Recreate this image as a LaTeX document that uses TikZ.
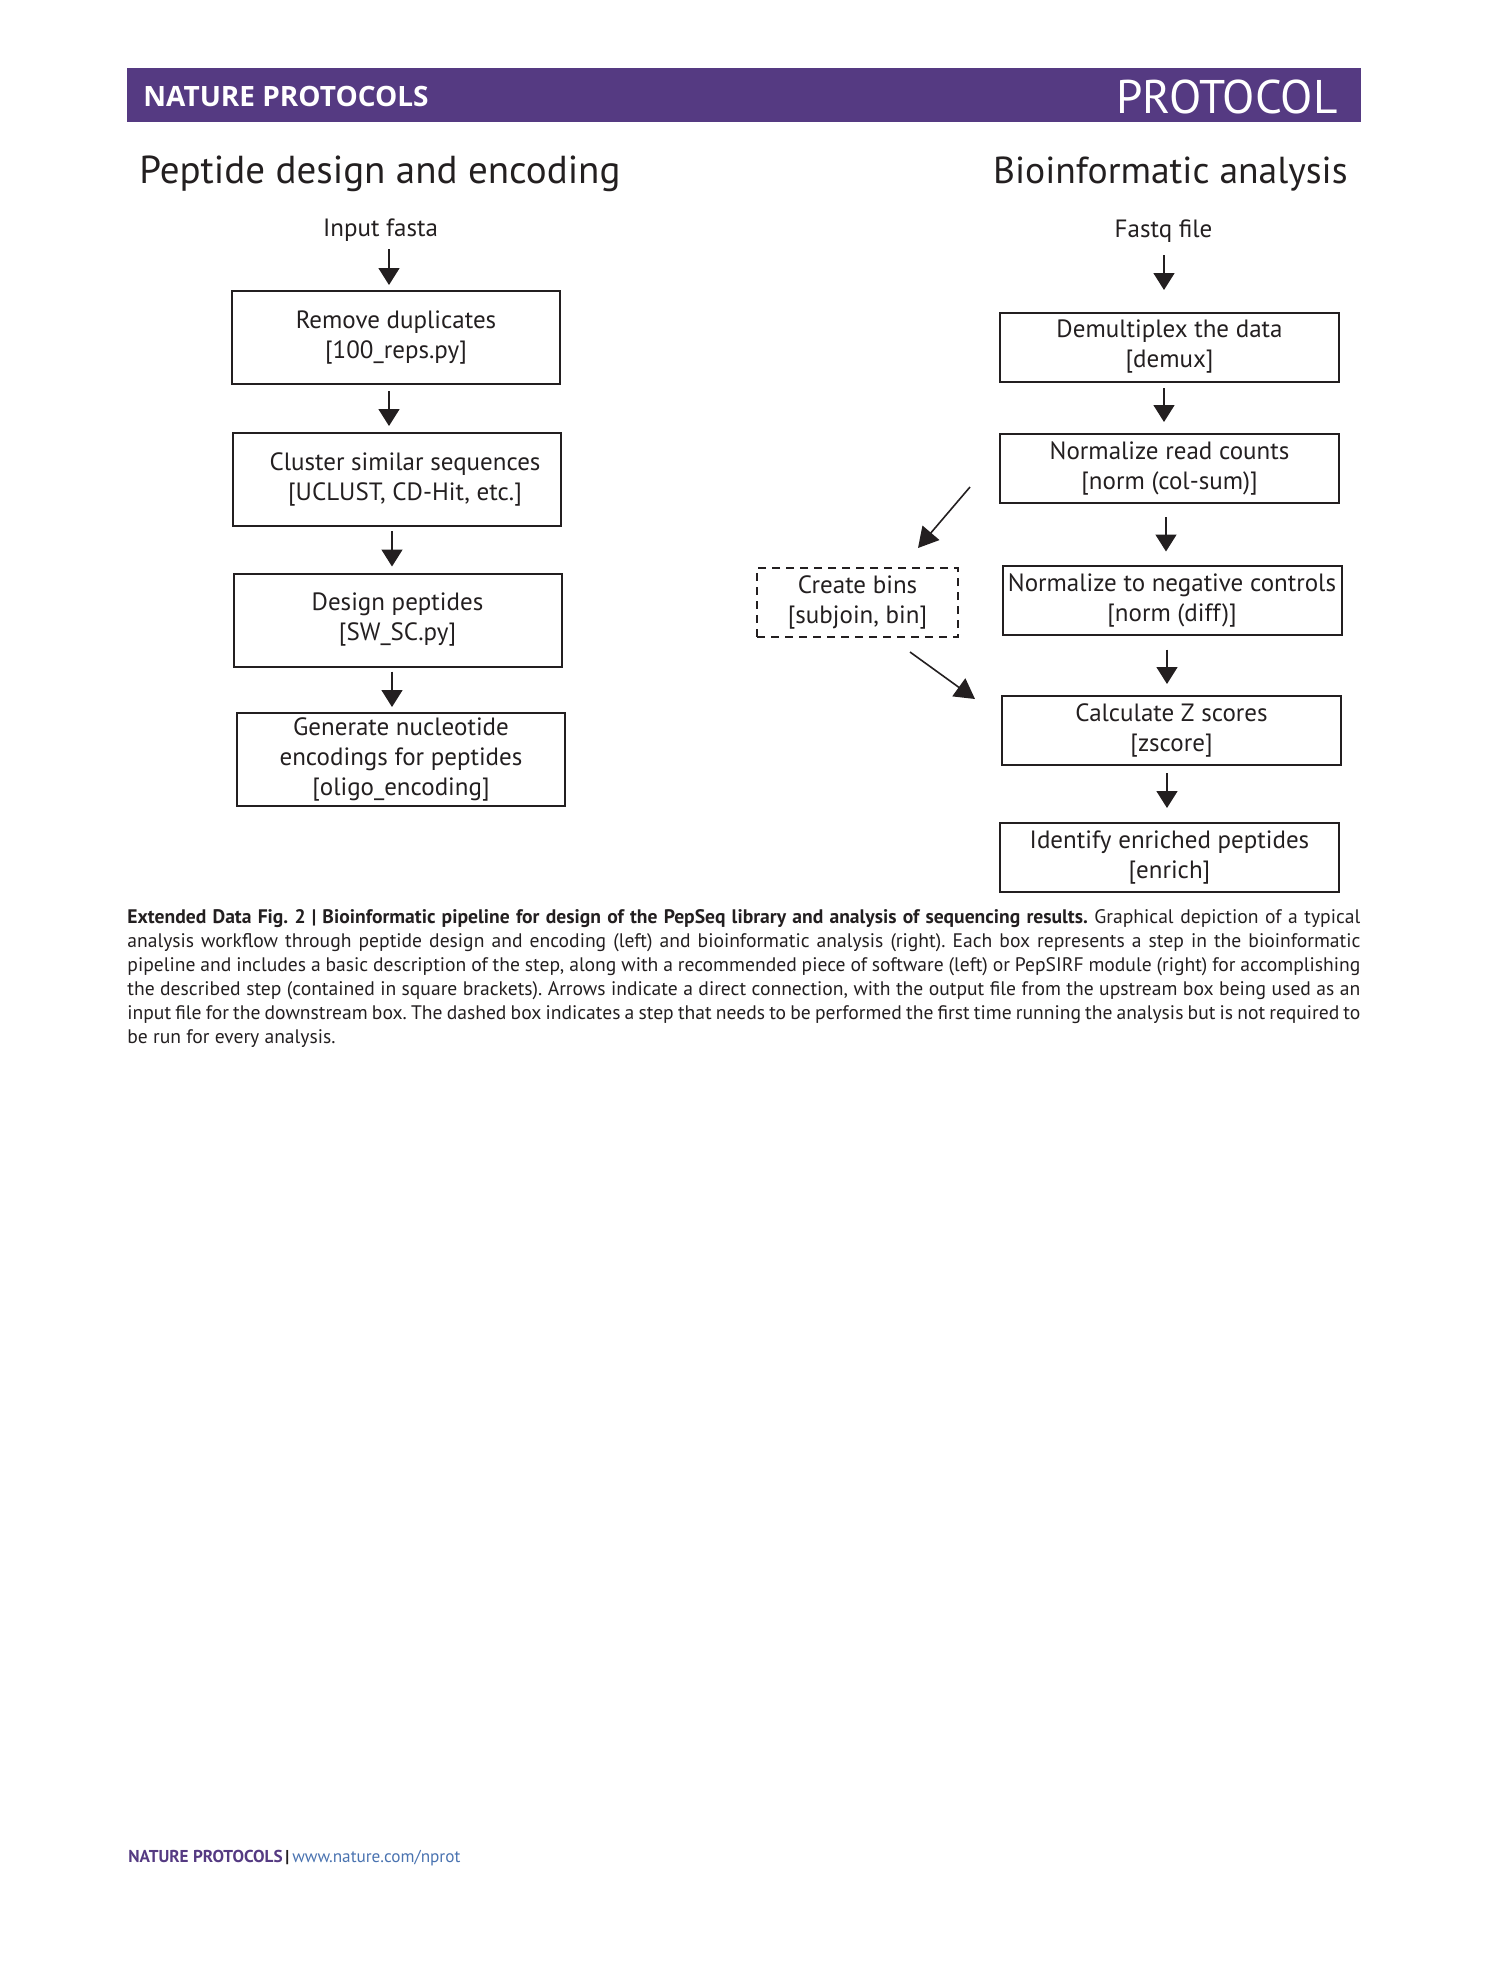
\documentclass[tikz,border=0pt]{standalone}
\usepackage{fontspec}
\setmainfont{PT Sans}
\newfontfamily\bannerfont{Open Sans}
\usetikzlibrary{arrows.meta}
\definecolor{natpurple}{HTML}{553A82}
\definecolor{natblue}{HTML}{4A73B0}
\definecolor{pdink}{HTML}{231F20}
\tikzset{
  pipebox/.style={draw=pdink, line width=1pt, align=center, inner sep=0pt,
                  minimum width=164pt, minimum height=46.5pt,
                  font=\fontsize{12.5}{15}\selectfont, text=pdink},
  pipewide/.style={pipebox, minimum width=169.5pt, minimum height=34.5pt},
  pipedash/.style={pipebox, dash pattern=on 4pt off 3pt,
                   minimum width=100.5pt, minimum height=34.5pt},
  pipear/.style={-{Triangle[length=8.5pt,width=10.5pt]}, line width=0.8pt, draw=pdink},
  pipebigar/.style={-{Triangle[length=10pt,width=11pt]}, line width=0.8pt, draw=pdink},
  pipelab/.style={font=\fontsize{12.5}{15}\selectfont, text=pdink, inner sep=0pt},
  pipehead/.style={text=pdink, inner sep=0pt},
}

\begin{document}
\begin{tikzpicture}[x=0.5pt,y=-0.5pt]
  \useasboundingbox (0,0) rectangle (1489,1978);

  % journal banner
  \fill[natpurple] (127,68) rectangle (1361,122);
  \node[anchor=base west, inner sep=0pt, text=white,
        font=\bannerfont\fontsize{14}{16}\selectfont\bfseries] (jname) at (143,106.5) {NATURE PROTOCOLS};
  \node[anchor=base east, inner sep=0pt, text=white,
        font=\fontsize{23.6}{26}\selectfont] (atype) at (1338,113) {PROTOCOL};

  \node[pipehead, anchor=base west, font=\fontsize{19.5}{23}\selectfont] (hleft) at (139,183) {Peptide design and encoding};
  \node[pipehead, anchor=base east, font=\fontsize{18.8}{23}\selectfont] (hright) at (1348,183) {Bioinformatic analysis};

  % peptide design (left)
  \node[pipelab, anchor=base] (fasta) at (380.5,236.7) {Input fasta};
  \node[pipebox] (dedup) at (396,337.5) {Remove duplicates\\{[100\_reps.py]}};
  \node[pipebox] (clust) at (397,479.5) {\hspace*{8pt}Cluster similar sequences\\\hspace*{8pt}{[UCLUST, CD-Hit, etc.]}};
  \node[pipebox] (design) at (397.5,620) {Design peptides\\{[SW\_SC.py]}};
  \node[pipebox] (encode) at (401,759.5) {Generate nucleotide\\encodings for peptides\\{[oligo\_encoding]}};

  \draw[pipear] ([xshift=4.25pt,yshift=-3.5pt]fasta.south) -- ([xshift=-3.5pt,yshift=2.5pt]dedup.north);
  \draw[pipear] ([xshift=-3.5pt,yshift=-3pt]dedup.south) -- ([xshift=-4pt,yshift=3pt]clust.north);
  \draw[pipear] ([xshift=-2.5pt,yshift=-2pt]clust.south) -- ([xshift=-2.75pt,yshift=3pt]design.north);
  \draw[pipear] ([xshift=-2.75pt,yshift=-2pt]design.south) -- ([xshift=-4.5pt,yshift=2.5pt]encode.north);

  % bioinformatic analysis (right)
  \node[pipelab, anchor=base] (fastq) at (1163.5,237) {Fastq file};
  \node[pipewide] (demux) at (1169.5,347) {Demultiplex the data\\{[demux]}};
  \node[pipewide] (colsum) at (1169.5,468.5) {Normalize read counts\\{[norm (col-sum)]}};
  \node[pipewide] (negnorm) at (1172,600) {Normalize to negative controls\\{[norm (diff)]}};
  \node[pipewide] (zscore) at (1171.5,730) {Calculate Z scores\\{[zscore]}};
  \node[pipewide] (enrich) at (1169.5,857.5) {Identify enriched peptides\\{[enrich]}};
  \node[pipedash] (bins) at (857.5,602.5) {Create bins\\{[subjoin, bin]}};

  \draw[pipear] ([xshift=0.25pt,yshift=-6.5pt]fastq.south) -- ([xshift=-2.75pt,yshift=10.75pt]demux.north);
  \draw[pipear] ([xshift=-2.75pt,yshift=-2.75pt]demux.south) -- ([xshift=-2.75pt,yshift=5.5pt]colsum.north);
  \draw[pipear] ([xshift=-1.75pt,yshift=-6.5pt]colsum.south) -- ([xshift=-3pt,yshift=6.5pt]negnorm.north);
  \draw[pipear] ([xshift=-2.5pt,yshift=-7pt]negnorm.south) -- ([xshift=-2.25pt,yshift=5.25pt]zscore.north);
  \draw[pipear] ([xshift=-2.25pt,yshift=-3.75pt]zscore.south) -- ([xshift=-1.25pt,yshift=7pt]enrich.north);
  % side branch through the bins
  \draw[pipebigar] ([xshift=-14.5pt,yshift=-9.25pt]colsum.west) -- ([xshift=-20.5pt,yshift=9.5pt]bins.north east);
  \draw[pipebigar] ([xshift=-24.5pt,yshift=-7pt]bins.south east) -- ([xshift=-13pt,yshift=15.5pt]zscore.west);

  % figure legend
  \node[anchor=north west, inner sep=0pt, text width=616.5pt, align=justify,
        font=\fontsize{9.8}{12}\selectfont\frenchspacing, text=pdink] (legend) at (127,909)
    {\textbf{Extended Data Fig. 2 | Bioinformatic pipeline for design of the PepSeq library and analysis of sequencing results.} Graphical depiction of a typical\linebreak
     analysis workflow through peptide design and encoding (left) and bioinformatic analysis (right). Each box represents a step in the bioinformatic\linebreak
     pipeline and includes a basic description of the step, along with a recommended piece of software (left) or PepSIRF module (right) for accomplishing\linebreak
     the described step (contained in square brackets). Arrows indicate a direct connection, with the output file from the upstream box being used as an\linebreak
     input file for the downstream box. The dashed box indicates a step that needs to be performed the first time running the analysis but is not required to\linebreak
     be run for every analysis.};

  % page footer
  \node[anchor=base west, inner sep=0pt, font=\fontsize{8.6}{10}\selectfont] (foot) at (128,1862)
    {{\bfseries\color{natpurple}NATURE PROTOCOLS}\,{\bfseries\color{pdink}|}\,{\color{natblue}www.nature.com/nprot}};
\end{tikzpicture}
\end{document}
